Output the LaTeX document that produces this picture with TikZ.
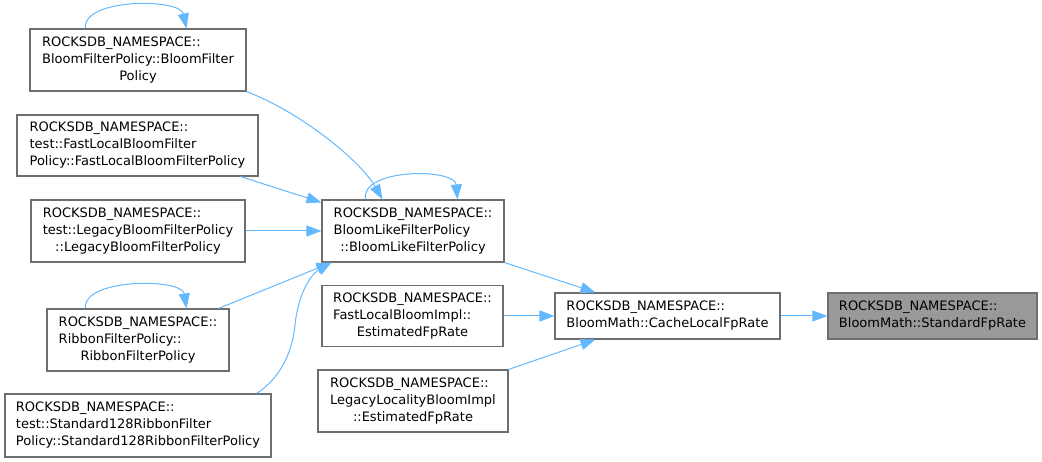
\documentclass[tikz,border=0pt]{standalone}
\usepackage{fontspec}
\setmainfont{DejaVu Sans}
\usetikzlibrary{arrows.meta,calc}
\definecolor{edgec}{RGB}{99,184,255}
\definecolor{boxc}{RGB}{110,110,110}
\definecolor{hlc}{RGB}{153,153,153}
\newcommand\mlines[2]{\begin{tabular}{@{}l@{}}#1\\\multicolumn{1}{@{}c@{}}{#2}\end{tabular}}
\tikzset{
  box/.style={draw=boxc, line width=1.1pt, fill=white, inner sep=0pt, text=black},
  hlbox/.style={box, fill=hlc},
  edge/.style={draw=edgec, line width=1pt, -{Triangle[length=15pt,width=11pt]}}
}
\begin{document}
\begin{tikzpicture}[x=1pt, y=-1pt, font=\fontsize{13}{17}\selectfont]
\useasboundingbox (0,0) rectangle (1042,462);
% nodes
\node[box, minimum width=216pt, minimum height=62pt] (bfp) at (138,60)
  {\mlines{ROCKSDB\_NAMESPACE::\\BloomFilterPolicy::BloomFilter}{Policy}};
\node[box, minimum width=241pt, minimum height=61pt] (flt) at (137.5,145.5)
  {\mlines{ROCKSDB\_NAMESPACE::\\test::FastLocalBloomFilter}{Policy::FastLocalBloomFilterPolicy}};
\node[box, minimum width=214pt, minimum height=62pt] (lbt) at (138,231)
  {\mlines{ROCKSDB\_NAMESPACE::\\test::LegacyBloomFilterPolicy}{::LegacyBloomFilterPolicy}};
\node[box, minimum width=182pt, minimum height=62pt] (rfp) at (138,340)
  {\mlines{ROCKSDB\_NAMESPACE::\\RibbonFilterPolicy::}{RibbonFilterPolicy}};
\node[box, minimum width=266pt, minimum height=63pt] (sr) at (138,425.5)
  {\mlines{ROCKSDB\_NAMESPACE::\\test::Standard128RibbonFilter}{Policy::Standard128RibbonFilterPolicy}};
\node[box, minimum width=182pt, minimum height=62pt] (blf) at (413,231)
  {\mlines{ROCKSDB\_NAMESPACE::\\BloomLikeFilterPolicy}{::BloomLikeFilterPolicy}};
\node[box, minimum width=181pt, minimum height=61pt] (flbi) at (412.5,316)
  {\mlines{ROCKSDB\_NAMESPACE::\\FastLocalBloomImpl::}{EstimatedFpRate}};
\node[box, minimum width=190pt, minimum height=62pt] (llbi) at (413,401)
  {\mlines{ROCKSDB\_NAMESPACE::\\LegacyLocalityBloomImpl}{::EstimatedFpRate}};
\node[box, minimum width=225pt, minimum height=46pt] (clfr) at (667.5,316)
  {\mlines{ROCKSDB\_NAMESPACE::}{BloomMath::CacheLocalFpRate}};
\node[hlbox, minimum width=209pt, minimum height=46pt] (sfr) at (932.5,316)
  {\mlines{ROCKSDB\_NAMESPACE::}{BloomMath::StandardFpRate}};
% edges
\draw[edge] ($(bfp.north west)+(56,0)$) .. controls (82,-2) and (180,-2) .. ($(bfp.north west)+(157,0)$);
\draw[edge] ($(rfp.north west)+(39,0)$) .. controls (82,278) and (182,278) .. ($(rfp.north west)+(140,0)$);
\draw[edge] ($(blf.north west)+(44,0)$) .. controls (360,168) and (455,168) .. ($(blf.north west)+(136,0)$);
\draw[edge] (bfp.south east) .. controls (300,112) and (360,160) .. ($(blf.north west)+(61,0)$);
\draw[edge] ($(flt.south east)+(-18,0)$) -- ($(blf.north west)+(0,3)$);
\draw[edge] (lbt.east) -- (blf.west);
\draw[edge] ($(rfp.north east)+(-11,0)$) -- ($(blf.south west)+(10,0)$);
\draw[edge] ($(sr.north east)+(-15,0)$) .. controls (285,375) and (293,345) .. (295,325) .. controls (298,295) and (310,275) .. ($(blf.south west)+(10,0)$);
\draw[edge] (blf.south east) -- ($(clfr.north west)+(41,0)$);
\draw[edge] (flbi.east) -- (clfr.west);
\draw[edge] (llbi.north east) -- ($(clfr.south west)+(41,0)$);
\draw[edge] (clfr.east) -- (sfr.west);
\end{tikzpicture}
\end{document}
